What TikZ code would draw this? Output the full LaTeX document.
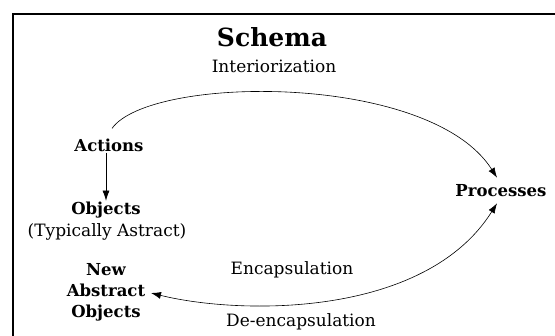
\documentclass[tikz,border=0pt]{standalone}
\usepackage{fontspec}
\setmainfont{DejaVu Serif}
\usetikzlibrary{arrows.meta,calc}

\begin{document}
\begin{tikzpicture}[x=1pt, y=-1pt,
    lbl/.style={font=\fontsize{16.5}{18}\selectfont\bfseries, inner sep=1pt, align=center},
    txt/.style={font=\fontsize{17}{19}\selectfont, inner sep=1pt},
    arr/.style={-{Latex[length=10pt,width=7pt]}, semithick}]
  % page size and frame
  \useasboundingbox (0,0) rectangle (555,336);
  \clip (0,0) rectangle (555,336);
  \draw[line width=2.2pt] (13,14) rectangle (600,380);

  % titles
  \node[font=\fontsize{25}{28}\selectfont\bfseries] (title) at (272,37) {Schema};
  \node[txt] (interior) at (274,66) {Interiorization};

  % the stages
  \node[lbl] (actions) at (109,145) {Actions};
  \node[lbl] (objects) at (106,210) {Objects};
  \node[txt] (typical) at (107,232) {(Typically Astract)};
  \node[lbl] (processes) at (501,191) {Processes};
  \node[lbl, text width=80pt] (newabs) at (106,292) {New\\[3pt]Abstract\\[3pt]Objects};
  \coordinate (abstip) at (151,293);

  \node[txt] (encap) at (292,270) {Encapsulation};
  \node[txt] (deencap) at (301,322) {De-encapsulation};

  % connectors
  \draw[arr] (actions.south -| objects) -- (objects.north);
  \draw[arr] ($(actions.north)+(3,-9)$) .. controls (150,75) and (430,72) .. ($(processes.north)+(-4,-6)$);
  \draw[arr, {Latex[length=10pt,width=7pt]}-{Latex[length=10pt,width=7pt]}] (abstip) .. controls (240,315) and (425,318) .. ($(processes.south)+(-4,5)$);
\end{tikzpicture}
\end{document}
